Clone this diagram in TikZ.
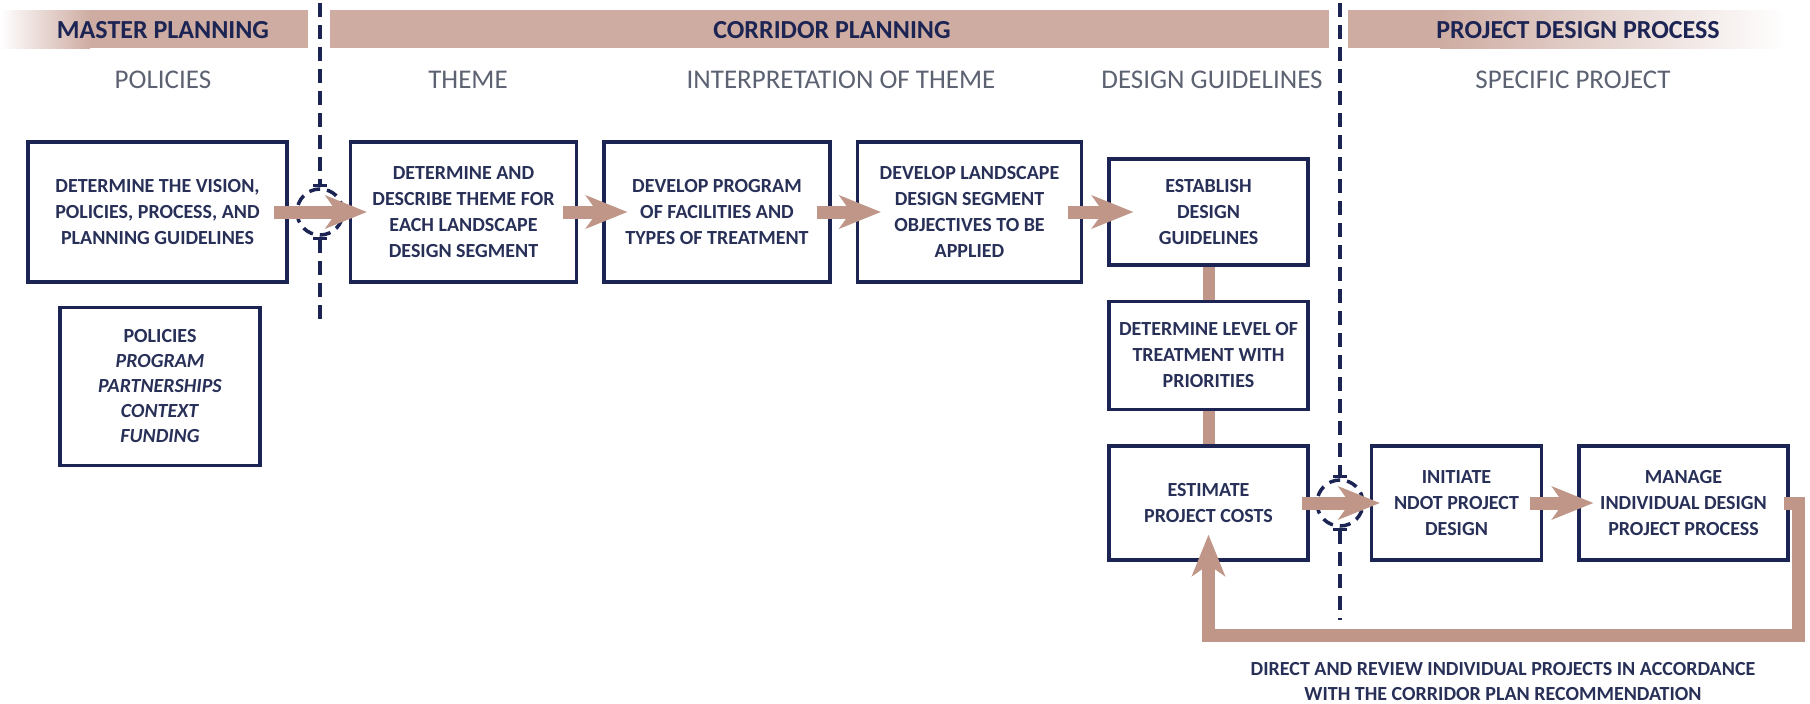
\documentclass[tikz,border=0pt]{standalone}
\usepackage{fontspec}
\setmainfont{Carlito}
\usepackage{xcolor}
\usepackage{tikz}
\usetikzlibrary{arrows.meta, positioning}

\definecolor{navy}{RGB}{28,36,84}
\definecolor{inktext}{RGB}{40,48,88}
\definecolor{rose}{RGB}{206,172,162}
\definecolor{flowbrown}{RGB}{192,150,136}
\definecolor{subgray}{RGB}{92,98,114}

\begin{document}
\begin{tikzpicture}[
    x=1pt, y=-1pt,
    node distance=33pt and 24pt,
    box/.style={draw=navy, line width=3.5pt, rectangle, fill=white, align=center, inner sep=4pt, text=inktext, font=\fontsize{20}{26}\selectfont\bfseries},
    title/.style={text=navy, font=\fontsize{26}{30}\selectfont\bfseries},
    phase/.style={text=subgray, font=\fontsize{27}{30}\selectfont},
    note/.style={align=center, text=inktext, font=\fontsize{20}{25}\selectfont\bfseries},
    flow/.style={line width=13pt, draw=flowbrown, -{Stealth[length=42pt, width=34pt, inset=12pt, line width=0pt]}},
    link/.style={line width=12pt, draw=flowbrown},
    divider/.style={line width=3.5pt, draw=navy, dash pattern=on 14pt off 8pt},
    gate/.style={circle, draw=navy, line width=3.5pt, dash pattern=on 11pt off 7pt, minimum size=46pt, inner sep=0pt},
    bar/.tip={Bar[width=14pt, line width=3pt]}
]
\useasboundingbox (0,0) rectangle (1810,704);

% heading bands
\shade[left color=white, right color=rose] (0,10) rectangle (90,48);
\fill[rose] (90,10) rectangle (308,48);
\fill[rose] (330,10) rectangle (1329,48);
\fill[rose] (1348,10) rectangle (1440,48);
\shade[left color=rose, right color=white] (1440,10) rectangle (1786,48);

\node (mastertitle) [title] at (163,30) {MASTER PLANNING};
\node (corridortitle) [title] at (832,30) {CORRIDOR PLANNING};
\node (projecttitle) [title] at (1578,30) {PROJECT DESIGN PROCESS};

\node (policieshead) [phase] at (163,80) {POLICIES};
\node (themehead) [phase] at (468,80) {THEME};
\node (interphead) [phase] at (841,80) {INTERPRETATION OF THEME};
\node (guidehead) [phase] at (1212,80) {DESIGN GUIDELINES};
\node (specifichead) [phase] at (1573,80) {SPECIFIC PROJECT};

% phase dividers
\coordinate (div1top) at (320,3);
\coordinate (div1bot) at (320,327);
\coordinate (div2top) at (1340,3);
\coordinate (div2bot) at (1340,620);
\node (gate1) [gate] at (320,212) {};
\node (gate2) [gate] at (1340,503) {};
\draw[divider, -bar] (div1top) -- (gate1.north);
\draw[divider, bar-] (gate1.south) -- (div1bot);
\draw[divider, -bar] (div2top) -- (gate2.north);
\draw[divider, bar-] (gate2.south) -- (div2bot);

% process boxes
\node (vision) [box, minimum width=259pt, minimum height=140pt] at (157.5,212) {DETERMINE THE VISION,\\ POLICIES, PROCESS, AND\\ PLANNING GUIDELINES};
\node (theme) [box, minimum width=226pt, minimum height=140pt, right=60pt of vision] {DETERMINE AND\\ DESCRIBE THEME FOR\\ EACH LANDSCAPE\\ DESIGN SEGMENT};
\node (program) [box, minimum width=226pt, minimum height=140pt, right=of theme] {DEVELOP PROGRAM\\ OF FACILITIES AND\\ TYPES OF TREATMENT};
\node (objectives) [box, minimum width=224pt, minimum height=140pt, right=of program] {DEVELOP LANDSCAPE\\ DESIGN SEGMENT\\ OBJECTIVES TO BE\\ APPLIED};
\node (establish) [box, minimum width=199pt, minimum height=106pt, right=of objectives] {ESTABLISH\\ DESIGN\\ GUIDELINES};
\node (level) [box, minimum width=199pt, minimum height=108pt, below=of establish] {DETERMINE LEVEL OF\\ TREATMENT WITH\\ PRIORITIES};
\node (estimate) [box, minimum width=199pt, minimum height=114pt, below=of level] {ESTIMATE\\ PROJECT COSTS};
\node (initiate) [box, minimum width=170pt, minimum height=114pt, right=60pt of estimate] {INITIATE\\ NDOT PROJECT\\ DESIGN};
\node (manage) [box, minimum width=209pt, minimum height=114pt, right=34pt of initiate] {MANAGE\\ INDIVIDUAL DESIGN\\ PROJECT PROCESS};
\node (policylist) [box, minimum width=200pt, minimum height=158pt, below=22pt of vision, xshift=2.5pt, font=\fontsize{20}{25}\selectfont\bfseries] {POLICIES\\ \textit{PROGRAM}\\ \textit{PARTNERSHIPS}\\ \textit{CONTEXT}\\ \textit{FUNDING}};

\draw[link] (establish.south) -- (level.north);
\draw[link] (level.south) -- (estimate.north);

\draw[flow] ([xshift=-15pt]vision.east) -- ([xshift=18pt]theme.west);
\draw[flow] ([xshift=-15pt]theme.east) -- ([xshift=25pt]program.west);
\draw[flow] ([xshift=-15pt]program.east) -- ([xshift=25pt]objectives.west);
\draw[flow] ([xshift=-15pt]objectives.east) -- ([xshift=26pt]establish.west);
\draw[flow] ([xshift=-8pt]estimate.east) -- ([xshift=10pt]initiate.west);
\draw[flow] ([xshift=-13pt]initiate.east) -- ([xshift=16pt]manage.west);

% feedback loop
\coordinate (loopturn) at (1798,635);
\draw[flow] ([xshift=-6pt]manage.east) -| (loopturn) -| ([yshift=27pt]estimate.south);
\node (feedback) [note] at (1503,682) {DIRECT AND REVIEW INDIVIDUAL PROJECTS IN ACCORDANCE\\ WITH THE CORRIDOR PLAN RECOMMENDATION};
\end{tikzpicture}
\end{document}
